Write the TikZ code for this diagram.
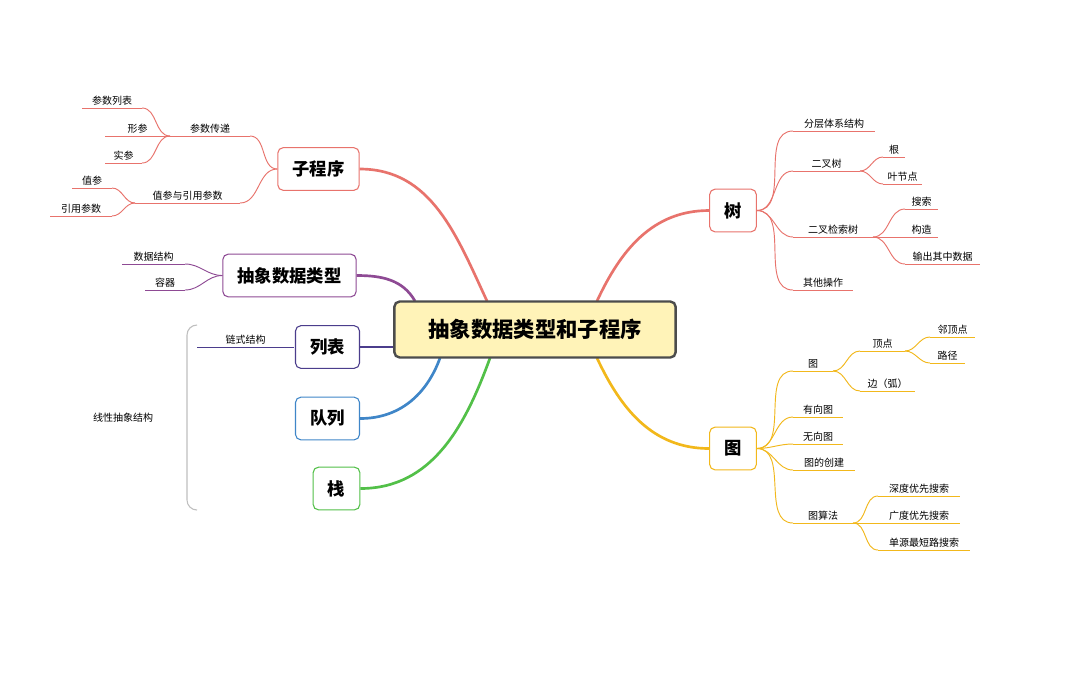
\documentclass[tikz,border=0pt]{standalone}
\usepackage{fontspec}
\setmainfont{Noto Sans CJK SC}
\begin{document}
\begin{tikzpicture}[x=0.75pt,y=-0.75pt,
  leaf/.style={font=\fontsize{7.5}{9}\selectfont,inner sep=1.5pt},
  leafline/.style={line width=0.7pt},
  cn/.style={line width=0.7pt},
  mc/.style={line width=2pt},
  box/.style={draw=#1,rounded corners=4pt,fill=white,line width=0.8pt,minimum height=32pt,inner xsep=11pt,font=\fontsize{13}{15}\selectfont\bfseries}]
\definecolor{cr}{HTML}{E8736C}
\definecolor{cp}{HTML}{8E4A94}
\definecolor{cd}{HTML}{4B3D8C}
\definecolor{cb}{HTML}{3F86C8}
\definecolor{cg}{HTML}{52C048}
\definecolor{cy}{HTML}{F2B81B}
\definecolor{cfill}{HTML}{FFF3B8}
\fill[white] (0,0) rectangle (1080,694);
\useasboundingbox (0,0) rectangle (1080,694);
\newcommand\lf[6]{\draw[#6,leafline] (#2,#4) coordinate (#1-l) -- (#3,#4) coordinate (#1-r);
 \node[leaf,anchor=south] (#1) at ({(#2+#3)/2},#4) {#5};}
% center
\coordinate (c1) at (487,301); \coordinate (c2) at (415,301);
\coordinate (c3) at (440,358); \coordinate (c4) at (490,358);
\coordinate (c5) at (597,301); \coordinate (c6) at (597,358);
% main boxes
\node[box=cr] (zc) at (318.5,169) {子程序};
\node[box=cp] (ad) at (289.5,275.5) {抽象数据类型};
\node[box=cd] (lb) at (327.5,347) {列表};
\node[box=cb] (dl) at (327.5,418.5) {队列};
\node[box=cg] (zh) at (336.5,488.5) {栈};
\node[box=cr] (shu) at (733,210.5) {树};
\node[box=cy] (tu) at (733,448.5) {图};
\draw[cr,mc] (c1) to[out=115,in=0] (zc.east);
\draw[cp,mc] (c2) to[out=120,in=0] (ad.east);
\draw[cd,mc] (lb.east) -- (393,347);
\draw[cb,mc] (c3) to[out=-110,in=0] (dl.east);
\draw[cg,mc] (c4) to[out=-110,in=0] (zh.east);
\draw[cr,mc] (c5) to[out=65,in=180] (shu.west);
\draw[cy,mc] (c6) to[out=-65,in=180] (tu.west);
\node[draw=black!70,fill=cfill,line width=1.8pt,rounded corners=4pt,minimum width=211pt,minimum height=42pt,font=\fontsize{16}{18}\selectfont\bfseries] (c) at (535,329.5) {抽象数据类型和子程序};
% left: subprogram
\lf{csc}{170}{250}{136}{参数传递}{cr}
\lf{csl}{82}{142}{108}{参数列表}{cr}
\lf{xc}{105}{170}{136}{形参}{cr}
\lf{sc}{105}{142}{163}{实参}{cr}
\lf{zy}{135}{240}{203}{值参与引用参数}{cr}
\lf{zcan}{72}{112}{188}{值参}{cr}
\lf{yy}{50}{112}{216}{引用参数}{cr}
\draw[cr,cn] (zc.west) to[out=180,in=0] (csc-r);
\draw[cr,cn] (zc.west) to[out=180,in=0] (zy-r);
\draw[cr,cn] (csc-l) to[out=180,in=0] (csl-r);
\draw[cr,cn] (csc-l) to[out=180,in=0] (sc-r);
\draw[cr,cn] (zy-l) to[out=180,in=0] (zcan-r);
\draw[cr,cn] (zy-l) to[out=180,in=0] (yy-r);
% ADT
\lf{sj}{122}{185}{264}{数据结构}{cp}
\lf{rq}{145}{185}{290}{容器}{cp}
\draw[cp,cn] (ad.west) to[out=180,in=0] (sj-r);
\draw[cp,cn] (ad.west) to[out=180,in=0] (rq-r);
% list
\lf{ls}{197}{294}{347}{链式结构}{cd}
% bracket
\draw[black!25,line width=0.8pt] (197,325) to[out=180,in=90] (187,335) -- (187,500) to[out=-90,in=180] (197,510);
\node[leaf] (xx) at (123,418) {线性抽象结构};
% tree
\lf{fc}{793}{875}{131}{分层体系结构}{cr}
\lf{ec}{793}{860}{171}{二叉树}{cr}
\lf{gen}{883}{905}{157}{根}{cr}
\lf{yj}{883}{922}{184}{叶节点}{cr}
\lf{js}{793}{873}{237}{二叉检索树}{cr}
\lf{ss}{905}{938}{209}{搜索}{cr}
\lf{gz}{905}{938}{237}{构造}{cr}
\lf{sc2}{905}{980}{264}{输出其中数据}{cr}
\lf{qt}{793}{853}{290}{其他操作}{cr}
\foreach \t in {fc,ec,js,qt} \draw[cr,cn] (shu.east) to[out=0,in=180] (\t-l);
\foreach \t in {gen,yj} \draw[cr,cn] (ec-r) to[out=0,in=180] (\t-l);
\foreach \t in {ss,gz,sc2} \draw[cr,cn] (js-r) to[out=0,in=180] (\t-l);
% graph
\lf{t1}{793}{833}{371}{图}{cy}
\lf{dd}{860}{905}{351}{顶点}{cy}
\lf{ld}{930}{975}{337}{邻顶点}{cy}
\lf{lj}{930}{965}{363}{路径}{cy}
\lf{bh}{860}{915}{391}{边（弧）}{cy}
\lf{yx}{793}{843}{417}{有向图}{cy}
\lf{wx}{793}{843}{444}{无向图}{cy}
\lf{cj}{793}{855}{470}{图的创建}{cy}
\lf{sf}{793}{853}{523}{图算法}{cy}
\lf{sd}{878}{960}{496}{深度优先搜索}{cy}
\lf{gd}{878}{960}{523}{广度优先搜索}{cy}
\lf{dy}{878}{970}{550}{单源最短路搜索}{cy}
\foreach \t in {t1,yx,wx,cj,sf} \draw[cy,cn] (tu.east) to[out=0,in=180] (\t-l);
\foreach \t in {dd,bh} \draw[cy,cn] (t1-r) to[out=0,in=180] (\t-l);
\foreach \t in {ld,lj} \draw[cy,cn] (dd-r) to[out=0,in=180] (\t-l);
\foreach \t in {sd,gd,dy} \draw[cy,cn] (sf-r) to[out=0,in=180] (\t-l);
\end{tikzpicture}
\end{document}
